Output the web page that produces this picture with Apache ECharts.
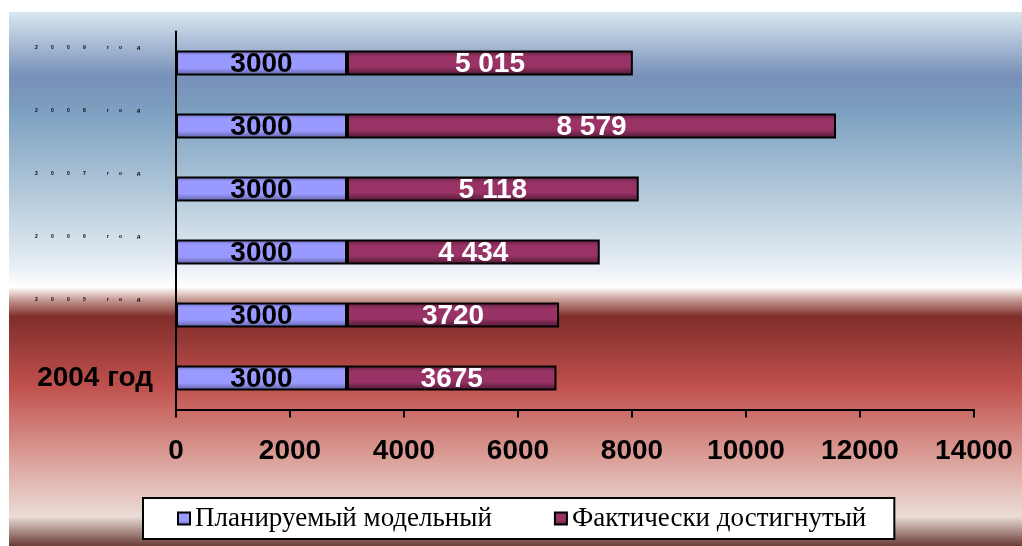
<!DOCTYPE html>
<html>
<head>
<meta charset="utf-8">
<script src="https://cdn.jsdelivr.net/npm/echarts@6/dist/echarts.min.js"></script>
<style>
  html, body { margin: 0; padding: 0; background: #fff; }
  #chart { width: 1022px; height: 546px; }
</style>
</head>
<body>
<div id="chart"></div>
<script>
// years, bottom to top
const years = ['2004 год', '2005 год', '2006 год', '2007 год', '2008 год', '2009 год'];
const planned = [3000, 3000, 3000, 3000, 3000, 3000];
const fact = [3675, 3720, 4434, 5118, 8579, 5015];
const factLabels = ['3675', '3720', '4 434', '5 118', '8 579', '5 015'];
const xTicks = { min: 0, max: 14000, interval: 2000 };

const chart = echarts.init(document.getElementById('chart'));

// the upper year labels are squashed to dots in the original
const charStyle = (ch) => {
    if (ch === ' ') return 'w8';
    if (ch === 'г') return 'w12';
    if (ch === 'о') return 'w18';
    return 'w16';
};
const tiny = { fontSize: 5, fontWeight: 'bold', color: '#000', align: 'left', fontFamily: 'Liberation Sans' };

const blueFill = new echarts.graphic.LinearGradient(0, 0, 0, 1, [
    { offset: 0, color: '#6b6bb3' },
    { offset: 0.2, color: '#9999ff' },
    { offset: 0.7, color: '#9999ff' },
    { offset: 1, color: '#5c5c99' }
]);
const redFill = new echarts.graphic.LinearGradient(0, 0, 0, 1, [
    { offset: 0, color: '#5e1f3e' },
    { offset: 0.25, color: '#993366' },
    { offset: 0.65, color: '#993366' },
    { offset: 1, color: '#4a1830' }
]);

const option = {
    animation: false,
    graphic: [{
        type: 'rect',
        z: -100,
        silent: true,
        shape: { x: 9, y: 12, width: 1013, height: 534 },
        style: {
            fill: {
                type: 'linear', x: 0, y: 0, x2: 0, y2: 1,
                colorStops: [
                    { offset: 0, color: '#dae7f1' },
                    { offset: 0.12, color: '#7790b8' },
                    { offset: 0.19, color: '#7ea1c1' },
                    { offset: 0.35, color: '#b6ccdc' },
                    { offset: 0.48, color: '#e9eff5' },
                    { offset: 0.515, color: '#ffffff' },
                    { offset: 0.54, color: '#c49690' },
                    { offset: 0.57, color: '#7f2e2a' },
                    { offset: 0.70, color: '#c0504d' },
                    { offset: 0.82, color: '#d8968f' },
                    { offset: 0.91, color: '#e6c9c3' },
                    { offset: 0.945, color: '#eadcd6' },
                    { offset: 1, color: '#6a3b36' }
                ]
            }
        }
    }],
    grid: { left: 176, right: 48, top: 31.5, bottom: 136.5 },
    legend: {
        left: 143,
        top: 498,
        backgroundColor: '#fff',
        borderColor: '#000',
        borderWidth: 2,
        padding: [7, 28, 7, 34],
        itemGap: 62,
        itemWidth: 12,
        itemHeight: 12,
        icon: 'rect',
        textStyle: { fontFamily: 'Liberation Serif', fontSize: 27, color: '#000' },
        data: ['Планируемый модельный', 'Фактически достигнутый']
    },
    xAxis: {
        type: 'value',
        min: xTicks.min,
        max: xTicks.max,
        interval: xTicks.interval,
        axisLine: { show: true, lineStyle: { color: '#000', width: 2 } },
        axisTick: { show: true, length: 8, lineStyle: { color: '#000', width: 2 } },
        splitLine: { show: false },
        axisLabel: {
            margin: 28,
            formatter: (v) => String(v),
            color: '#000',
            fontSize: 28,
            fontWeight: 'bold',
            fontFamily: 'Liberation Sans'
        }
    },
    yAxis: {
        type: 'category',
        data: years,
        axisLine: { lineStyle: { color: '#000', width: 2 } },
        axisTick: { show: false },
        axisLabel: {
            margin: 23,
            formatter: (val) => {
                if (val === years[0]) return '{big|' + val + '}';
                return val.split('').map((ch) => '{' + charStyle(ch) + '|' + ch + '}').join('') + '\n{gap| }';
            },
            rich: {
                big: { fontSize: 28, fontWeight: 'bold', color: '#000', fontFamily: 'Liberation Sans' },
                w8: Object.assign({ width: 8 }, tiny),
                w12: Object.assign({ width: 12 }, tiny),
                w16: Object.assign({ width: 16 }, tiny),
                w18: Object.assign({ width: 18 }, tiny),
                gap: { fontSize: 4, height: 30, width: 1 }
            }
        }
    },
    series: [
        {
            name: 'Планируемый модельный',
            type: 'bar',
            stack: 'total',
            barWidth: 25,
            data: planned,
            itemStyle: { color: blueFill, borderColor: '#000', borderWidth: 2 },
            label: {
                show: true,
                position: 'inside',
                offset: [0, 1],
                color: '#000',
                fontSize: 28,
                fontWeight: 'bold',
                fontFamily: 'Liberation Sans'
            }
        },
        {
            name: 'Фактически достигнутый',
            type: 'bar',
            stack: 'total',
            barWidth: 25,
            data: fact,
            itemStyle: { color: redFill, borderColor: '#000', borderWidth: 2 },
            label: {
                show: true,
                position: 'inside',
                offset: [0, 1],
                formatter: (p) => factLabels[p.dataIndex],
                color: '#fff',
                fontSize: 28,
                fontWeight: 'bold',
                fontFamily: 'Liberation Sans'
            }
        }
    ]
};

chart.setOption(option);
</script>
</body>
</html>
